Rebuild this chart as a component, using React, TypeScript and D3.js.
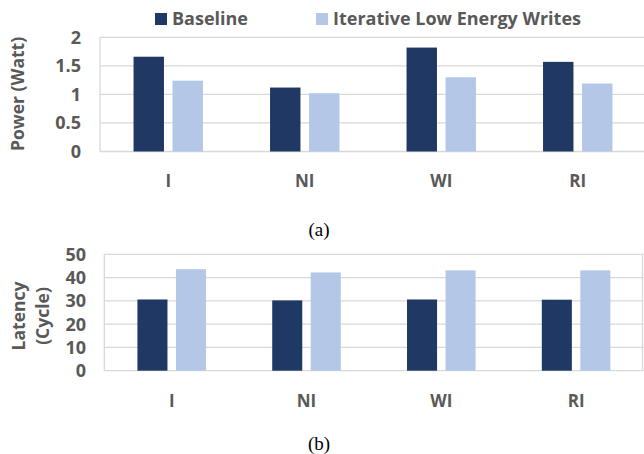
import React, { useEffect, useRef } from "react";
import * as d3 from "d3";

const categories = ["I", "NI", "WI", "RI"];
const seriesNames = ["Baseline", "Iterative Low Energy Writes"];
const seriesColors = ["#203864", "#b4c7e7"];

const powerBaseline = [1.66, 1.12, 1.82, 1.57];
const powerLowEnergy = [1.24, 1.02, 1.3, 1.19];
const powerTicks = [0, 0.5, 1, 1.5, 2];

const latencyBaseline = [30.6, 30.2, 30.6, 30.5];
const latencyLowEnergy = [43.6, 42.2, 43.1, 43.1];
const latencyTicks = [0, 10, 20, 30, 40, 50];

const FONT = "'Open Sans', Lato, sans-serif";
const TEXT = "#595959";
const GRID = "#d9d9d9";

type Panel = {
  values: number[][];
  ticks: number[];
  x: [number, number];
  y: [number, number];
  tickX: number;
  titleLines: string[];
  titleX: number[];
  titleY: number;
  catY: number;
  caption: string;
  captionY: number;
};

function drawPanel(svg: d3.Selection<SVGSVGElement, unknown, null, undefined>, p: Panel) {
  const g = svg.append("g");
  const maxTick = p.ticks[p.ticks.length - 1];

  const x0 = d3.scaleBand<string>().domain(categories).range(p.x).padding(0);
  const x1 = d3
    .scaleBand<string>()
    .domain(seriesNames)
    .range([0, x0.bandwidth()])
    .paddingInner(0.22)
    .paddingOuter(0.86);
  const y = d3.scaleLinear().domain([0, maxTick]).range(p.y);

  // grid + plot border
  g.selectAll(".grid")
    .data(p.ticks)
    .enter()
    .append("line")
    .attr("x1", p.x[0])
    .attr("x2", p.x[1])
    .attr("y1", (d) => y(d))
    .attr("y2", (d) => y(d))
    .attr("stroke", GRID)
    .attr("stroke-width", 1.3);
  [p.x[0], p.x[1] - 1].forEach((xx) => {
    g.append("line")
      .attr("x1", xx)
      .attr("x2", xx)
      .attr("y1", y(0))
      .attr("y2", y(maxTick))
      .attr("stroke", GRID)
      .attr("stroke-width", 1.3);
  });

  // bars
  seriesNames.forEach((s, si) => {
    g.selectAll(".bar" + si)
      .data(categories)
      .enter()
      .append("rect")
      .attr("x", (c) => (x0(c) as number) + (x1(s) as number))
      .attr("y", (c, i) => y(p.values[si][i]))
      .attr("width", x1.bandwidth())
      .attr("height", (c, i) => y(0) - y(p.values[si][i]))
      .attr("fill", seriesColors[si]);
  });

  // y tick labels
  g.selectAll(".ytick")
    .data(p.ticks)
    .enter()
    .append("text")
    .attr("x", p.tickX)
    .attr("y", (d) => y(d))
    .attr("dy", "0.36em")
    .attr("text-anchor", "end")
    .style("font-family", FONT)
    .style("font-weight", "bold")
    .style("font-size", "18px")
    .attr("fill", TEXT)
    .text((d) => String(d));

  // category labels
  g.selectAll(".xtick")
    .data(categories)
    .enter()
    .append("text")
    .attr("x", (c) => (x0(c) as number) + x0.bandwidth() / 2)
    .attr("y", p.catY)
    .attr("dy", "0.36em")
    .attr("text-anchor", "middle")
    .style("font-family", FONT)
    .style("font-weight", "bold")
    .style("font-size", "17px")
    .attr("fill", TEXT)
    .text((c) => c);

  // y title
  p.titleLines.forEach((t, i) => {
    g.append("text")
      .attr("transform", `translate(${p.titleX[i]},${p.titleY}) rotate(-90)`)
      .attr("text-anchor", "middle")
      .attr("dy", "0.36em")
      .style("font-family", FONT)
      .style("font-weight", "bold")
      .style("font-size", "17.5px")
      .attr("fill", TEXT)
      .text(t);
  });

  // caption
  g.append("text")
    .attr("x", 319)
    .attr("y", p.captionY)
    .attr("dy", "0.35em")
    .attr("text-anchor", "middle")
    .style("font-family", "'Liberation Serif', 'Times New Roman', serif")
    .style("font-size", "19px")
    .attr("fill", "#000")
    .text(p.caption);
}

export default function App() {
  const svgRef = useRef<SVGSVGElement>(null);

  useEffect(() => {
    const svg = d3.select(svgRef.current as SVGSVGElement);
    svg.selectAll("*").remove();

    drawPanel(svg, {
      values: [powerBaseline, powerLowEnergy],
      ticks: powerTicks,
      x: [100, 646],
      y: [151.5, 37.3],
      tickX: 81,
      titleLines: ["Power (Watt)"],
      titleX: [18],
      titleY: 94,
      catY: 181,
      caption: "(a)",
      captionY: 229,
    });

    drawPanel(svg, {
      values: [latencyBaseline, latencyLowEnergy],
      ticks: latencyTicks,
      x: [104.3, 643.5],
      y: [370.7, 254.3],
      tickX: 86,
      titleLines: ["Latency", "(Cycle)"],
      titleX: [19, 43],
      titleY: 316,
      catY: 400.5,
      caption: "(b)",
      captionY: 443,
    });

    // legend
    const legend = svg.append("g");
    const legendX = [155, 316];
    seriesNames.forEach((s, i) => {
      legend
        .append("rect")
        .attr("x", legendX[i])
        .attr("y", 13)
        .attr("width", 12)
        .attr("height", 12)
        .attr("fill", seriesColors[i]);
      legend
        .append("text")
        .attr("x", legendX[i] + 17)
        .attr("y", 19)
        .attr("dy", "0.36em")
        .style("font-family", FONT)
        .style("font-weight", "bold")
        .style("font-size", "18px")
        .attr("fill", TEXT)
        .text(s);
    });
  }, []);

  return (
    <svg
      ref={svgRef}
      width={644}
      height={454}
      style={{ position: "absolute", left: 0, top: 0, background: "#fff" }}
    />
  );
}
